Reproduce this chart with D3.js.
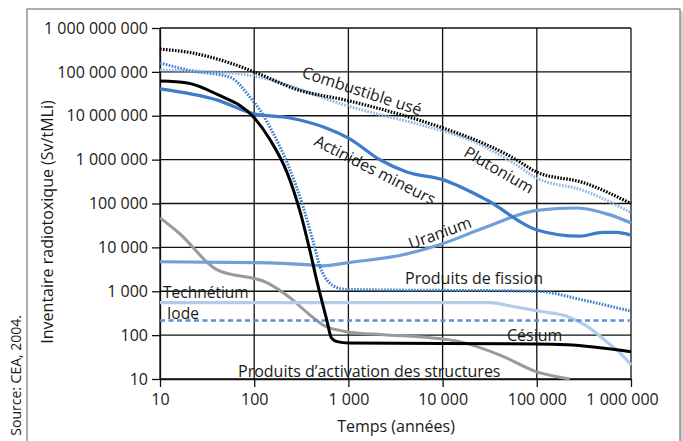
<!DOCTYPE html>
<html>
<head>
<meta charset="utf-8">
<script src="https://cdn.jsdelivr.net/npm/d3@7"></script>
<style>
  body { margin: 0; background: #fff; }
  text { font-family: "Open Sans", sans-serif; fill: #1a1a1a; }
</style>
</head>
<body>
<svg id="chart" width="683" height="441"></svg>
<script>
// ticks
const xTicks = [10, 100, 1e3, 1e4, 1e5, 1e6];
const yTicks = [10, 100, 1e3, 1e4, 1e5, 1e6, 1e7, 1e8, 1e9];

// series: [years, Sv/tMLi]
const combustibleUse = [[10, 3.3e8], [22, 2.7e8], [55, 1.6e8], [100, 1e8], [280, 4e7], [1000, 2.2e7],
  [10000, 5.3e6], [16600, 3.6e6], [56000, 1.1e6], [100000, 5.2e5], [310000, 3e5], [1000000, 1e5]];
const plutonium = [[10, 1.1e8], [55, 9.5e7], [100, 8e7], [1000, 1.65e7], [10000, 4.5e6], [16600, 3.2e6],
  [56000, 8.5e5], [100000, 3.8e5], [310000, 2e5], [1000000, 6.2e4]];
const actinides = [[10, 4.1e7], [40, 2.3e7], [100, 1.1e7], [240, 8.9e6], [590, 5.2e6], [1000, 3.1e6],
  [2190, 9.8e5], [4170, 5.2e5], [10000, 3.5e5], [29500, 1.2e5], [100000, 2.5e4], [288000, 1.8e4],
  [500000, 2.2e4], [700000, 2.2e4], [1000000, 1.9e4]];
const cesium = [[10, 6.2e7], [19.5, 5.6e7], [40, 3.1e7], [100, 9e6], [148, 2.8e6], [224, 5e5], [309, 6.2e4],
  [389, 8700], [468, 1550], [589, 224], [660, 87], [760, 71], [1000, 66], [100000, 63], [209000, 60], [1000000, 42]];
const produitsFission = [[10, 1.6e8], [22, 1.05e8], [55, 7.6e7], [91, 2.6e7], [115, 1.35e7], [158, 4.1e6],
  [240, 5.9e5], [331, 8.3e4], [417, 1.5e4], [501, 3600], [631, 1550], [871, 1120], [1000, 1100],
  [100000, 1000], [310000, 630], [1000000, 350]];
const uranium = [[10, 4700], [100, 4500], [389, 4000], [540, 3800], [1000, 4500], [3800, 6800], [9300, 11500],
  [29500, 29500], [100000, 70000], [270000, 79000], [600000, 55000], [1000000, 36000]];
const technetium = [[10, 550], [31600, 550], [56000, 450], [107000, 350], [209000, 270], [340000, 160],
  [560000, 69], [760000, 40], [1000000, 21]];
const iode = [[10, 215], [1000000, 215]];
const activation = [[10, 47000], [16, 21000], [40, 3100], [138, 1550], [240, 710], [389, 290], [537, 170],
  [955, 120], [2340, 102], [7400, 87], [15100, 71], [40700, 35], [100000, 14.5], [224000, 10]];

const svg = d3.select('#chart');

// outer frame with a soft shadow on the right
svg.append('rect').attr('x', 680).attr('y', 11).attr('width', 3).attr('height', 440).attr('fill', '#d4d4d4');
svg.append('rect')
  .attr('x', 27).attr('y', 9).attr('width', 653).attr('height', 450)
  .attr('fill', '#fff').attr('stroke', '#777').attr('stroke-width', 1.2);

const x = d3.scaleLog().domain([10, 1e6]).range([160, 631]);
const y = d3.scaleLog().domain([10, 1e9]).range([379, 28]);

const locale = d3.formatLocale({ decimal: ',', thousands: ' ', grouping: [3], currency: ['', ' €'] });
const fmt = locale.format(',d');

// grid
svg.append('g').selectAll('line').data(yTicks).enter().append('line')
  .attr('x1', 160).attr('x2', 631)
  .attr('y1', d => y(d)).attr('y2', d => y(d))
  .attr('stroke', '#111').attr('stroke-width', 1.3);
svg.append('g').selectAll('line').data(xTicks).enter().append('line')
  .attr('x1', d => x(d)).attr('x2', d => x(d))
  .attr('y1', 28).attr('y2', 379)
  .attr('stroke', '#111').attr('stroke-width', 1.3);

// axes
const yAxis = svg.append('g')
  .attr('transform', 'translate(160,0)')
  .call(d3.axisLeft(y).tickValues(yTicks).tickFormat(fmt).tickSize(8).tickSizeOuter(0).tickPadding(4));
const xAxis = svg.append('g')
  .attr('transform', 'translate(0,379)')
  .call(d3.axisBottom(x).tickValues(xTicks).tickFormat(fmt).tickSize(8).tickSizeOuter(0).tickPadding(7));

[yAxis, xAxis].forEach(g => {
  g.attr('font-family', null).attr('font-size', null);
  g.selectAll('text').attr('font-size', '16px').style('fill', '#1a1a1a');
  g.selectAll('line, path').attr('stroke', '#111').attr('stroke-width', 1.3);
});
// last x label sits a little to the left in the original
xAxis.selectAll('.tick text').filter(d => d === 1e6).attr('dx', -9);

// curves
const line = d3.line()
  .x(d => x(d[0]))
  .y(d => y(d[1]))
  .curve(d3.curveMonotoneX);

const series = [
  { data: activation, color: '#9a9a9a', width: 3, dash: null },
  { data: technetium, color: '#b4cce9', width: 3.2, dash: null },
  { data: iode, color: '#5b90d3', width: 2.6, dash: '5,3.5' },
  { data: uranium, color: '#6f9fd6', width: 3.2, dash: null },
  { data: produitsFission, color: '#3d7cc9', width: 3, dash: '1.6,1.4' },
  { data: actinides, color: '#3d7cc9', width: 3.2, dash: null },
  { data: plutonium, color: '#8db4e2', width: 3, dash: '1.6,1.4' },
  { data: combustibleUse, color: '#000', width: 3.2, dash: '1.6,1.4' },
  { data: cesium, color: '#000', width: 3, dash: null }
];

svg.append('g').selectAll('path').data(series).enter().append('path')
  .attr('d', d => line(d.data))
  .attr('fill', 'none')
  .attr('stroke', d => d.color)
  .attr('stroke-width', d => d.width)
  .attr('stroke-dasharray', d => d.dash)
  .attr('stroke-linejoin', 'round');

// curve labels
const labels = [
  { text: 'Combustible usé', cx: 362, cy: 91, rot: 18 },
  { text: 'Actinides mineurs', cx: 375, cy: 170, rot: 27 },
  { text: 'Plutonium', cx: 499, cy: 170, rot: 30 },
  { text: 'Uranium', cx: 440, cy: 233, rot: -20 }
];
svg.append('g').selectAll('text').data(labels).enter().append('text')
  .attr('transform', d => `translate(${d.cx},${d.cy}) rotate(${d.rot})`)
  .attr('text-anchor', 'middle')
  .attr('dy', '0.35em')
  .attr('font-size', '16px')
  .text(d => d.text);

const flatLabels = [
  { text: 'Produits de fission', x: 405, y: 284, size: 16 },
  { text: 'Technétium', x: 163, y: 298, size: 15.5 },
  { text: 'Iode', x: 167, y: 319, size: 15.5 },
  { text: 'Césium', x: 507, y: 341, size: 16 },
  { text: 'Produits d\u2019activation des structures', x: 238, y: 377, size: 16 }
];
svg.append('g').selectAll('text').data(flatLabels).enter().append('text')
  .attr('x', d => d.x).attr('y', d => d.y)
  .attr('font-size', d => d.size + 'px')
  .text(d => d.text);

// axis titles
svg.append('text')
  .attr('x', 396).attr('y', 432)
  .attr('text-anchor', 'middle')
  .attr('font-size', '16px')
  .text('Temps (années)');

svg.append('text')
  .attr('transform', 'translate(53,222) rotate(-90)')
  .attr('text-anchor', 'middle')
  .attr('font-size', '16px')
  .text('Inventaire radiotoxique (Sv/tMLi)');

svg.append('text')
  .attr('transform', 'translate(21,315) rotate(-90)')
  .attr('text-anchor', 'end')
  .attr('font-size', '14px')
  .text('Source: CEA, 2004.');
</script>
</body>
</html>
